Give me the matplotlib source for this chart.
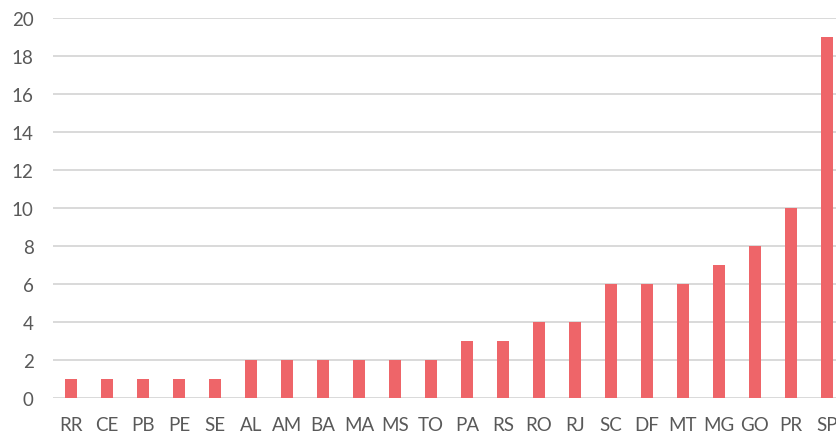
import matplotlib.pyplot as plt

estados = ['RR', 'CE', 'PB', 'PE', 'SE', 'AL', 'AM', 'BA', 'MA', 'MS', 'TO',
           'PA', 'RS', 'RO', 'RJ', 'SC', 'DF', 'MT', 'MG', 'GO', 'PR', 'SP']
valores = [1, 1, 1, 1, 1, 2, 2, 2, 2, 2, 2, 3, 3, 4, 4, 6, 6, 6, 7, 8, 10, 19]
yticks = list(range(0, 21, 2))

plt.rcParams['font.family'] = ['Lato', 'DejaVu Sans']

fig = plt.figure(figsize=(8.37, 4.35), dpi=100)
# eixo passa um pouco da borda direita, como no original
ax = fig.add_axes([53 / 837, 36 / 435, 792 / 837, 380 / 435])

x = range(len(estados))
ax.bar(x, valores, width=0.33, color='#EE6569', zorder=3)

ax.set_xlim(-0.5, len(estados) - 0.5)
ax.set_ylim(0, 20)
ax.set_yticks(yticks)
ax.set_xticks(list(x))
ax.set_xticklabels(estados)
ax.grid(axis='y', color='#D9D9D9', linewidth=1.4, zorder=0)
for s in ax.spines.values():
    s.set_visible(False)
ax.tick_params(axis='both', length=0, labelsize=13.5, colors='#595959')
ax.tick_params(axis='x', pad=13)
ax.tick_params(axis='y', pad=14)

fig.savefig('out.png', dpi=100)
